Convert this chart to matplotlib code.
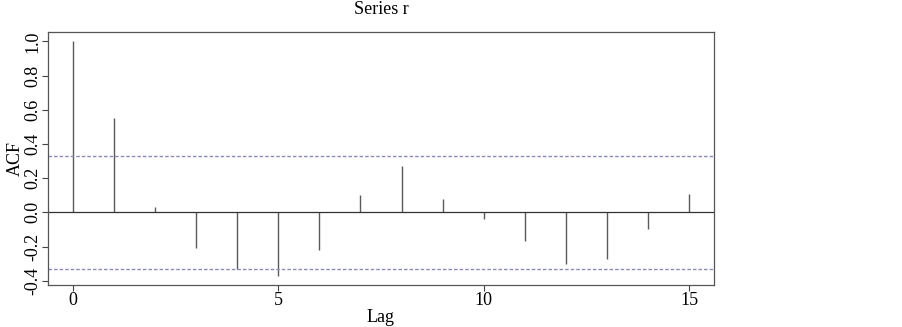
import numpy as np
import matplotlib
matplotlib.use("Agg")
from matplotlib import pyplot as plt

# ACF values, lags 0..15
lags = np.arange(16)
acf = [1.0, 0.55, 0.03, -0.21, -0.33, -0.37, -0.22, 0.10,
       0.27, 0.08, -0.04, -0.17, -0.305, -0.27, -0.095, 0.11]
clim = 0.33
xticks = [0, 5, 10, 15]
yticks = [-0.4, -0.2, 0.0, 0.2, 0.4, 0.6, 0.8, 1.0]

plt.rcParams['font.family'] = ['Liberation Serif', 'DejaVu Serif']
plt.rcParams['font.size'] = 13

fig = plt.figure(figsize=(9.03, 3.27), dpi=100)
ax = fig.add_axes([48 / 903, 42 / 327, 666 / 903, 253 / 327])

ax.vlines(lags, 0, acf, color='#5a5a5a', lw=1)
ax.axhline(0, color='#333333', lw=0.9)
for c in (clim, -clim):
    ax.axhline(c, color='#8a8ab8', lw=1, ls=(0, (2.5, 1.5)))

ax.set_xlim(-0.6, 15.6)
ax.set_ylim(-0.425, 1.055)
ax.set_xticks(xticks)
ax.set_yticks(yticks)
ax.set_yticklabels(['%.1f' % v for v in yticks], rotation=90, va='center')
ax.tick_params(direction='out', length=4, width=0.8, color='#444444',
               labelsize=13, pad=1)
for s in ax.spines.values():
    s.set_color('#555555')
    s.set_linewidth(0.9)

ax.set_xlabel('Lag', fontsize=13, labelpad=0)
ax.set_ylabel('ACF', fontsize=13)
ax.yaxis.set_label_coords(-0.036, 0.5)
ax.set_title('Series r', fontsize=13, pad=13)

fig.savefig('out.png', dpi=100)
